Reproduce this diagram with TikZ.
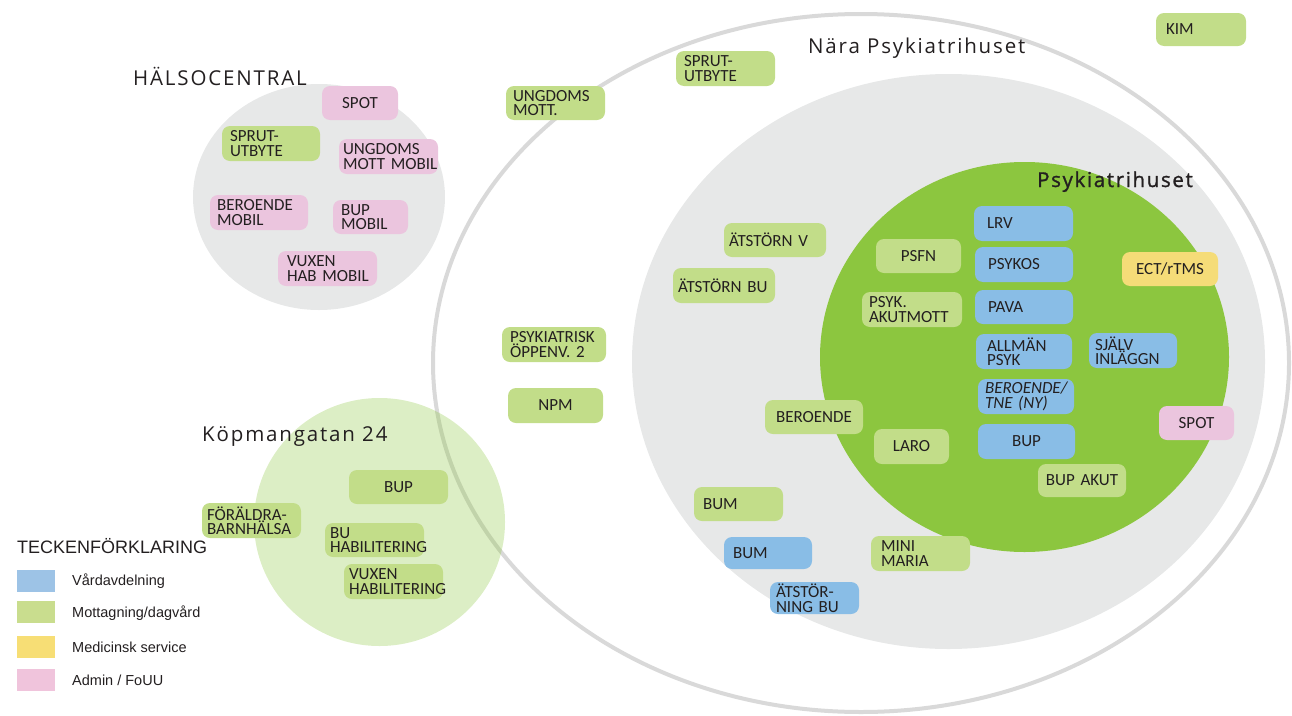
\documentclass[tikz,border=0pt]{standalone}
\usepackage{fontspec}
\setmainfont{Carlito}
\newfontfamily\titlefont[LetterSpace=9]{Open Sans}
\newfontfamily\titleboldfont[LetterSpace=8, FakeBold=1.2]{Open Sans}
\newfontfamily\legendfont{Liberation Sans}

\definecolor{ink}{RGB}{35,31,32}
\definecolor{ringgray}{RGB}{217,217,217}
\definecolor{zonegray}{RGB}{231,232,232}
\definecolor{housegreen}{RGB}{140,198,63}
\definecolor{boxgreen}{RGB}{194,221,137}
\definecolor{boxblue}{RGB}{137,189,230}
\definecolor{boxpink}{RGB}{235,197,222}
\definecolor{boxyellow}{RGB}{245,220,120}
\definecolor{legblue}{RGB}{157,195,230}
\definecolor{leggreen}{RGB}{201,221,142}
\definecolor{legyellow}{RGB}{247,222,117}
\definecolor{legpink}{RGB}{240,196,220}

\hyphenpenalty=10000
\exhyphenpenalty=10000

\begin{document}
\begin{tikzpicture}[x=1pt,y=-1pt,
  unit/.style={rounded corners=8pt, inner ysep=0pt, text=ink, align=left,
    font=\fontsize{17}{14.5}\selectfont},
  gbox/.style={unit, fill=boxgreen},
  bbox/.style={unit, fill=boxblue},
  pbox/.style={unit, fill=boxpink},
  ybox/.style={unit, fill=boxyellow},
  ctr/.style={align=center},
  % box from its left, top, right, bottom edges and the left text padding
  bx/.code n args={5}{%
    \pgfmathsetmacro\bxw{#3-#1}%
    \pgfmathsetmacro\bxh{#4-#2}%
    \pgfmathsetmacro\bxx{(#1+#3)/2}%
    \pgfmathsetmacro\bxy{(#2+#4)/2}%
    \pgfmathsetmacro\bxt{#3-#1-2*#5}%
    \edef\bxset{\noexpand\tikzset{at={(\bxx,\bxy)},minimum width=\bxw pt,
      minimum height=\bxh pt,inner xsep=#5pt,text width=\bxt pt}}%
    \bxset},
  title/.style={font=\titlefont\fontsize{20.5}{24}\selectfont, text=ink, inner sep=0pt, anchor=base west},
  legtext/.style={font=\legendfont\fontsize{14.5}{17}\selectfont, text=ink, inner sep=0pt, anchor=base west},
  swatch/.style={minimum width=38pt, minimum height=22pt, inner sep=0pt, anchor=north west}
]
\useasboundingbox (0,0) rectangle (1292,715);

% site areas
\fill[zonegray] (319,197) ellipse [x radius=126pt, y radius=113pt];
\draw[ringgray, line width=4pt] (861,363) ellipse [x radius=428pt, y radius=349pt];
\fill[housegreen, fill opacity=0.3] (379.5,522) ellipse [x radius=125.5pt, y radius=124pt];
\fill[zonegray] (948.5,361.5) ellipse [x radius=316.5pt, y radius=287.5pt];
\fill[housegreen] (1024.5,357) ellipse [x radius=204.5pt, y radius=195pt];

% titles
\node[title] (tHalso) at (133,85) {HÄLSOCENTRAL};
\node[title] (tNara) at (808,53) {Nära Psykiatrihuset};
\node[title, font=\titleboldfont\fontsize{20.5}{24}\selectfont] (tHuset) at (1037,187) {Psykiatrihuset};
\node[title] (tKop) at (202,441) {Köpmangatan 24};

% Hälsocentral
\node[pbox, ctr, bx={322}{86}{398}{120}{4}] (hSpot) {SPOT};
\node[gbox, bx={222}{126}{320}{161}{8}] (hSprut) {SPRUT-\\UTBYTE};
\node[pbox, bx={339}{139}{438}{174}{4}] (hUngdom) {UNGDOMS\\\mbox{MOTT MOBIL}};
\node[pbox, bx={210}{195}{308}{230}{7}] (hBeroende) {BEROENDE\\MOBIL};
\node[pbox, bx={333}{200}{408}{234}{8}] (hBup) {BUP\\MOBIL};
\node[pbox, bx={278}{251}{377}{286}{9}] (hVuxen) {VUXEN\\\mbox{HAB MOBIL}};

% Köpmangatan 24
\node[gbox, ctr, bx={349}{470}{448}{504}{4}] (kBup) {BUP};
\node[gbox, bx={202}{503}{301}{538}{5}] (kForaldra) {FÖRÄLDRA-\\BARNHÄLSA};
\node[gbox, bx={325}{523}{424}{557}{5}] (kBuHab) {BU\\HABILITERING};
\node[gbox, bx={344}{564}{443}{599}{5}] (kVuxHab) {VUXEN\\HABILITERING};

% near the hospital
\node[gbox, bx={506}{86}{605}{120}{7}] (nUngdom) {UNGDOMS\\MOTT.};
\node[gbox, bx={676}{51}{775}{86}{8}] (nSprut) {SPRUT-\\UTBYTE};
\node[gbox, bx={1156}{13}{1246}{46}{10}] (kim) {KIM};
\node[gbox, bx={502}{327}{606}{362}{8}] (nPsykOpp) {PSYKIATRISK\\\mbox{ÖPPENV. 2}};
\node[gbox, ctr, bx={508}{388}{603}{423}{4}] (npm) {NPM};

\node[gbox, bx={724}{223}{826}{257}{5}] (atV) {\mbox{ÄTSTÖRN V}};
\node[gbox, bx={673}{268}{775}{303}{5}] (atBu) {\mbox{ÄTSTÖRN BU}};
\node[gbox, ctr, bx={765}{400}{863}{434}{4}] (beroende) {BEROENDE};
\node[gbox, bx={694}{487}{783}{521}{9}] (bumG) {BUM};
\node[bbox, bx={724}{537}{812}{569}{9}] (bumB) {BUM};
\node[bbox, bx={770}{582}{859}{614}{6}] (atNing) {ÄTSTÖR-\\\mbox{NING BU}};
\node[gbox, bx={871}{536}{970}{571}{10}] (mini) {MINI\\MARIA};

% Psykiatrihuset
\node[gbox, ctr, bx={876}{239}{961}{273}{4}] (psfn) {PSFN};
\node[gbox, bx={862}{292}{962}{327}{7}] (psykAkut) {PSYK.\\AKUTMOTT};
\node[gbox, ctr, bx={874}{429}{949}{464}{4}] (laro) {LARO};
\node[bbox, bx={974}{206}{1073}{241}{13}] (lrv) {LRV};
\node[bbox, bx={975}{247}{1073}{282}{13}] (psykos) {PSYKOS};
\node[bbox, bx={975}{290}{1073}{324}{13}] (pava) {PAVA};
\node[bbox, bx={976}{334}{1072}{369}{11}] (allman) {ALLMÄN\\PSYK};
\node[bbox, bx={978}{379}{1074}{414}{7}, font=\fontsize{17}{14.5}\selectfont\itshape] (beroTne) {BEROENDE/\\\mbox{TNE (NY)}};
\node[bbox, ctr, bx={978}{424}{1075}{459}{4}] (bupB) {BUP};
\node[bbox, bx={1089}{333}{1177}{368}{6}] (sjalv) {SJÄLV\\INLÄGGN};
\node[ybox, ctr, bx={1122}{252}{1218}{286}{4}] (ect) {ECT/rTMS};
\node[pbox, ctr, bx={1159}{406}{1234}{440}{4}] (spot) {SPOT};
\node[gbox, ctr, bx={1038}{464}{1126}{497}{4}] (bupAkut) {\mbox{BUP AKUT}};

% legend
\node[legtext, font=\legendfont\fontsize{18}{21}\selectfont] (legTitle) at (17,553) {TECKENFÖRKLARING};
\node[swatch, fill=legblue] (swBlue) at (17,570) {};
\node[swatch, fill=leggreen] (swGreen) at (17,601) {};
\node[swatch, fill=legyellow] (swYellow) at (17,636) {};
\node[swatch, fill=legpink] (swPink) at (17,669) {};
\node[legtext] (lgBlue) at (72,585) {Vårdavdelning};
\node[legtext] (lgGreen) at (72,617) {Mottagning/dagvård};
\node[legtext] (lgYellow) at (72,652) {Medicinsk service};
\node[legtext] (lgPink) at (72,685) {Admin / FoUU};
\end{tikzpicture}
\end{document}
